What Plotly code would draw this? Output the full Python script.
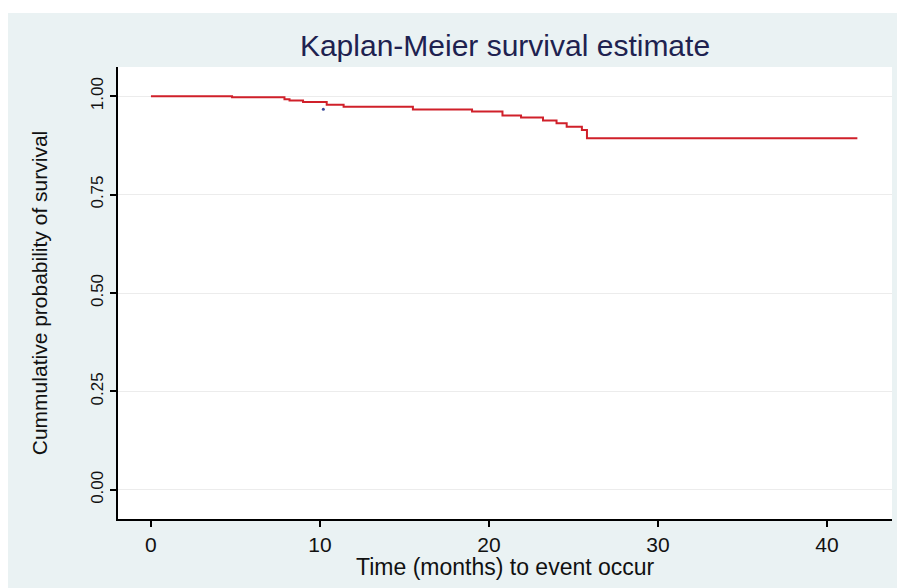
import plotly.graph_objects as go

# Kaplan-Meier step points (time in months, survival probability)
times = [0, 4.8, 7.9, 8.2, 9.0, 10.4, 11.4, 15.5, 19.0, 20.8, 21.9, 23.2, 24.0, 24.6, 25.5, 25.8, 41.8]
surv = [1.0, 0.997, 0.992, 0.989, 0.985, 0.978, 0.973, 0.966, 0.961, 0.951, 0.946, 0.938, 0.931, 0.922, 0.914, 0.893, 0.893]

# small stray mark visible in the original figure
dot_time = [10.2]
dot_surv = [0.967]

x_ticks = [0, 10, 20, 30, 40]
y_ticks = [0.0, 0.25, 0.5, 0.75, 1.0]
y_tick_labels = ["0.00", "0.25", "0.50", "0.75", "1.00"]

title_text = "Kaplan-Meier survival estimate"
x_title = "Time (months) to event occur"
y_title = "Cummulative probability of survival"

FONT = "Liberation Sans, Arial, sans-serif"

# the page body adds an 8px offset, so the figure is 8px smaller on each axis
W, H = 897, 580
PLOT_H = H - 59 - 69

fig = go.Figure()
fig.add_trace(go.Scatter(
    x=times, y=surv, mode="lines", line=dict(color="#d0202a", width=2, shape="hv"),
    showlegend=False, hoverinfo="x+y"))
fig.add_trace(go.Scatter(
    x=dot_time, y=dot_surv, mode="markers", marker=dict(color="#3a4a9a", size=3),
    showlegend=False, hoverinfo="skip"))

fig.update_layout(
    width=W, height=H,
    margin=dict(l=110, r=13, t=59, b=69, autoexpand=False),
    paper_bgcolor="#eaf2f3", plot_bgcolor="#ffffff",
    font=dict(family=FONT, color="#111111"),
    title=dict(text=title_text, x=0.5, xref="paper", y=1 - 37/H, yanchor="middle",
               font=dict(size=30, color="#1e2250", family=FONT)),
    shapes=[
        dict(type="rect", xref="paper", yref="paper", x0=-0.2, x1=1.1, y0=1 + (59-5)/PLOT_H, y1=1.2,
             fillcolor="#ffffff", line=dict(width=0), layer="below"),
    ],
    annotations=[
        dict(text=x_title, xref="paper", yref="paper", x=0.5, y=-(559-511)/PLOT_H,
             xanchor="center", yanchor="middle", showarrow=False,
             font=dict(size=23, color="#111", family=FONT)),
    ],
    xaxis=dict(range=[-1.95, 43.85], tickvals=x_ticks, ticks="outside", ticklen=6, tickwidth=1.5,
               tickcolor="#000", showline=True, linecolor="#000", linewidth=1.5, showgrid=False,
               zeroline=False, tickfont=dict(size=21, color="#111"), automargin=False),
    yaxis=dict(range=[-0.074, 1.074], tickvals=y_ticks, ticktext=y_tick_labels, ticks="outside",
               ticklen=6, tickwidth=1.5, tickcolor="#000", showline=True, linecolor="#000", linewidth=1.5,
               showgrid=True, gridcolor="#ececec", gridwidth=1, zeroline=False, tickangle=-90,
               tickfont=dict(size=17, color="#111"), automargin=False,
               title=dict(text=y_title, standoff=35, font=dict(size=21, color="#111"))),
)

fig.write_html("out.html")
